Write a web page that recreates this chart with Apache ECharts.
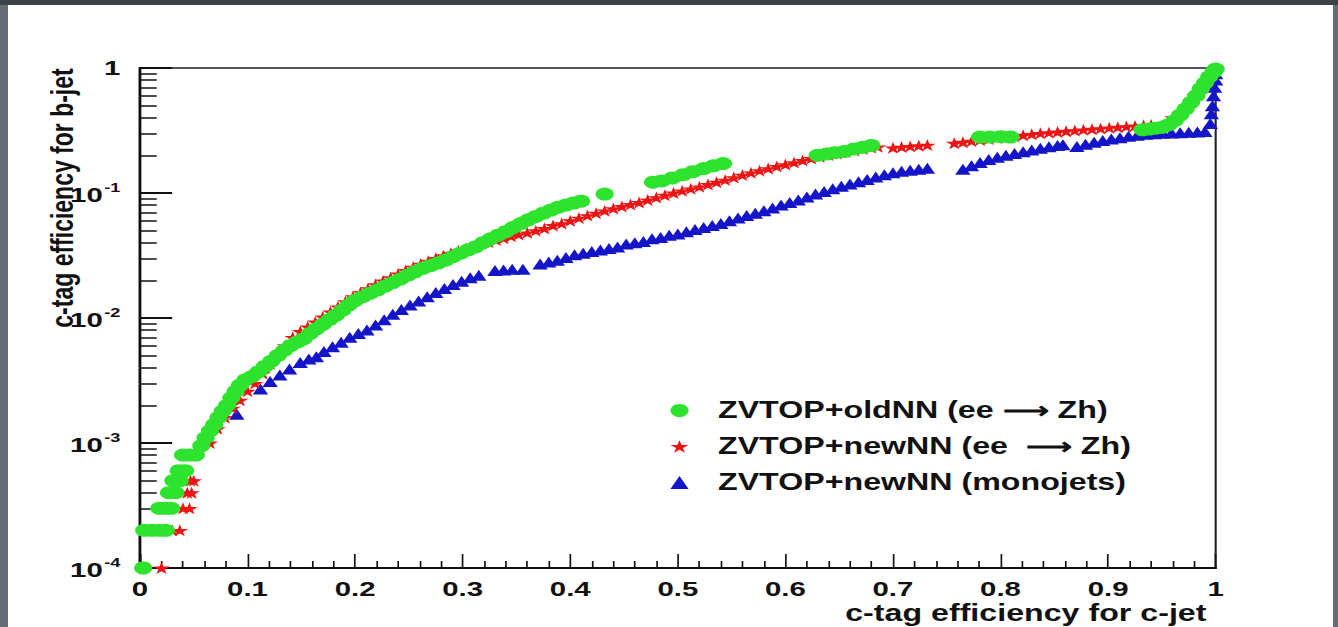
<!DOCTYPE html>
<html><head><meta charset="utf-8">
<script src="https://cdn.jsdelivr.net/npm/echarts@6/dist/echarts.min.js"></script>
<style>
html,body{margin:0;padding:0;width:1338px;height:627px;overflow:hidden;background:#656c74;}
#topbar{position:absolute;left:0;top:0;width:1338px;height:5px;background:#3d4248;}
#paper{position:absolute;left:8px;top:5px;width:1325px;height:622px;background:#fff;}
#chart{position:absolute;left:0;top:0;width:956px;height:627px;transform:scaleX(1.39958);transform-origin:0 0;}
</style></head><body>
<div id="topbar"></div><div id="paper"></div><div id="chart"></div>
<script>
// ---- data (x = c-tag efficiency for c-jet, y = c-tag efficiency for b-jet) ----
const seriesNames = ['ZVTOP+oldNN (ee \u27F6 Zh)', 'ZVTOP+newNN (ee  \u27F6 Zh)', 'ZVTOP+newNN (monojets)'];
const xTitle = 'c-tag efficiency for c-jet';
const yTitle = 'c-tag efficiency for b-jet';
const xTicks = [0, 0.1, 0.2, 0.3, 0.4, 0.5, 0.6, 0.7, 0.8, 0.9, 1];
const yTicks = [1e-4, 1e-3, 1e-2, 1e-1, 1];

const greenOldNN = [
 [0.003,1e-4],
 [0.004,2e-4],[0.011,2e-4],[0.018,2e-4],[0.024,2e-4],
 [0.018,3e-4],[0.024,3e-4],[0.029,3e-4],
 [0.027,4e-4],[0.033,4e-4],
 [0.031,5e-4],[0.037,5e-4],
 [0.036,6e-4],[0.042,6e-4],
 [0.040,8e-4],[0.046,8e-4],[0.052,8e-4],
 [0.057,9.5e-4],[0.061,1.1e-3],[0.065,1.25e-3],[0.069,1.4e-3],[0.073,1.6e-3],[0.077,1.8e-3],
 [0.081,2.0e-3],[0.085,2.3e-3],[0.089,2.6e-3],[0.093,2.9e-3],[0.098,3.2e-3],[0.104,3.4e-3],
 [0.110,3.7e-3],[0.116,4.1e-3],[0.122,4.5e-3],[0.128,5.0e-3],[0.134,5.5e-3],[0.140,6.0e-3],
 [0.146,6.4e-3],[0.152,6.8e-3],[0.158,7.5e-3],[0.164,8.2e-3],[0.170,8.9e-3],[0.176,9.7e-3],
 [0.182,0.0105],[0.188,0.0115],[0.194,0.0127],[0.200,0.0138],[0.207,0.0148],[0.214,0.0158],
 [0.221,0.0168],[0.228,0.018],[0.235,0.0192],[0.242,0.0205],[0.249,0.022],[0.256,0.0235],
 [0.263,0.025],[0.270,0.0262],[0.277,0.0275],[0.284,0.029],[0.291,0.031],[0.298,0.033],
 [0.305,0.035],[0.312,0.037],[0.319,0.040],[0.326,0.043],[0.333,0.046],[0.340,0.049],
 [0.347,0.053],[0.354,0.057],[0.361,0.061],[0.368,0.065],[0.375,0.069],[0.382,0.073],
 [0.389,0.077],[0.396,0.080],[0.403,0.083],[0.410,0.086],
 [0.432,0.098],
 [0.477,0.122],[0.485,0.125],[0.495,0.132],[0.505,0.140],[0.514,0.148],[0.524,0.157],[0.533,0.165],[0.542,0.172],
 [0.630,0.200],[0.638,0.205],[0.646,0.210],[0.655,0.215],[0.664,0.225],[0.672,0.232],[0.680,0.240],
 [0.781,0.280],[0.790,0.280],[0.800,0.282],[0.809,0.280],
 [0.932,0.320],[0.938,0.325],[0.944,0.330],[0.950,0.335],[0.956,0.350],[0.962,0.380],[0.967,0.420],
 [0.972,0.470],[0.977,0.530],[0.982,0.600],[0.986,0.680],[0.990,0.760],[0.994,0.850],[0.998,0.930],[1.000,0.980]
];

const redNewNN = [
 [0.020,1e-4],
 [0.030,2e-4],[0.037,2e-4],
 [0.040,3e-4],[0.046,3e-4],
 [0.044,4e-4],[0.048,4e-4],
 [0.047,5e-4],[0.050,5e-4],
 [0.065,1.0e-3],[0.072,1.3e-3],[0.079,1.6e-3],[0.086,1.9e-3],[0.093,2.2e-3],[0.100,2.6e-3],
 [0.107,3.0e-3],[0.114,3.6e-3],[0.121,4.3e-3],[0.128,5.1e-3],[0.135,6.0e-3],[0.142,7.0e-3],
 [0.149,7.8e-3],[0.156,8.5e-3],[0.163,9.3e-3],[0.170,0.0102],[0.177,0.0112],[0.184,0.0123],
 [0.191,0.0135],[0.198,0.0148],[0.205,0.016],[0.212,0.0172],[0.219,0.0185],[0.226,0.0198],
 [0.233,0.021],[0.240,0.0225],[0.247,0.024],[0.254,0.0255],[0.261,0.027],[0.268,0.0285],
 [0.275,0.030],[0.282,0.0315],[0.289,0.033],[0.296,0.0345],[0.303,0.036],[0.310,0.0375],
 [0.317,0.039],[0.324,0.0405],[0.331,0.042],[0.338,0.0435],[0.345,0.045],[0.352,0.0465],
 [0.360,0.048],[0.368,0.050],[0.376,0.052],[0.384,0.055],[0.392,0.057],[0.400,0.060],
 [0.408,0.063],[0.416,0.066],[0.424,0.069],[0.432,0.072],[0.440,0.075],[0.448,0.078],
 [0.456,0.081],[0.464,0.084],[0.472,0.088],[0.480,0.092],[0.488,0.096],[0.496,0.100],
 [0.504,0.104],[0.512,0.108],[0.520,0.112],[0.528,0.117],[0.536,0.122],[0.544,0.127],
 [0.552,0.133],[0.560,0.139],[0.568,0.145],[0.576,0.151],[0.584,0.157],[0.592,0.163],
 [0.600,0.169],[0.608,0.175],[0.616,0.182],[0.624,0.189],[0.632,0.195],[0.640,0.201],
 [0.648,0.207],[0.656,0.213],[0.664,0.219],[0.672,0.225],[0.680,0.231],[0.686,0.234],
 [0.700,0.230],[0.708,0.233],[0.716,0.236],[0.724,0.239],[0.732,0.242],
 [0.757,0.250],[0.765,0.255],[0.773,0.260],[0.781,0.265],[0.789,0.270],[0.797,0.275],
 [0.805,0.280],[0.813,0.285],[0.821,0.290],[0.829,0.295],[0.837,0.300],[0.845,0.304],
 [0.853,0.308],[0.861,0.312],[0.869,0.316],[0.877,0.320],[0.885,0.324],[0.893,0.328],
 [0.901,0.332],[0.909,0.336],[0.917,0.340],[0.925,0.344],[0.933,0.348],[0.940,0.350],
 [0.960,0.400],[0.980,0.600],[0.998,0.900]
];

const blueMonojets = [
 [0.090,1.7e-3],
 [0.112,2.7e-3],[0.121,3.1e-3],[0.130,3.5e-3],[0.139,3.9e-3],[0.149,4.4e-3],[0.157,4.7e-3],
 [0.164,4.9e-3],[0.171,5.4e-3],[0.179,5.9e-3],[0.187,6.4e-3],[0.195,7.0e-3],[0.203,7.5e-3],
 [0.211,8.0e-3],[0.219,8.8e-3],[0.227,9.7e-3],[0.235,0.0107],[0.243,0.0117],[0.251,0.0127],
 [0.259,0.0137],[0.267,0.0148],[0.275,0.016],[0.283,0.0172],[0.291,0.0185],[0.299,0.0197],
 [0.307,0.021],[0.315,0.022],
 [0.330,0.024],[0.338,0.0242],[0.346,0.0245],[0.356,0.0245],
 [0.372,0.027],[0.380,0.028],[0.388,0.029],[0.396,0.0305],[0.404,0.032],[0.412,0.033],
 [0.420,0.034],[0.428,0.035],[0.436,0.036],[0.444,0.037],[0.452,0.039],[0.460,0.040],
 [0.468,0.041],[0.476,0.043],[0.484,0.044],[0.492,0.046],[0.500,0.047],[0.508,0.049],
 [0.516,0.051],[0.524,0.053],[0.532,0.055],[0.540,0.057],[0.548,0.060],[0.556,0.063],
 [0.564,0.066],[0.572,0.069],[0.580,0.072],[0.588,0.076],[0.596,0.080],[0.604,0.084],
 [0.612,0.088],[0.620,0.093],[0.628,0.098],[0.636,0.103],[0.644,0.108],[0.652,0.113],
 [0.660,0.118],[0.668,0.123],[0.676,0.128],[0.684,0.134],[0.692,0.140],[0.700,0.145],
 [0.708,0.149],[0.716,0.152],[0.724,0.155],[0.732,0.158],
 [0.765,0.155],[0.773,0.165],[0.781,0.175],[0.789,0.185],[0.797,0.193],[0.805,0.200],
 [0.813,0.207],[0.821,0.214],[0.829,0.221],[0.837,0.228],[0.845,0.234],[0.853,0.240],[0.858,0.243],
 [0.871,0.235],[0.879,0.245],[0.887,0.255],[0.895,0.263],[0.903,0.270],[0.911,0.277],
 [0.919,0.284],[0.927,0.290],[0.935,0.295],[0.943,0.298],[0.951,0.300],[0.959,0.302],
 [0.967,0.304],[0.975,0.306],[0.983,0.308],[0.990,0.310],[0.995,0.360],[0.996,0.430],
 [0.997,0.500],[0.998,0.600],[0.999,0.700],[1.000,0.800],[1.000,0.900]
];

// ---- styling ----
const FONT = 'Liberation Sans, Arial, Helvetica, sans-serif';
const GREEN = '#2ee32e', RED = '#ee1414', BLUE = '#1414c8';
const STAR = 'path://M50,0 L61,35 L98,35 L68,57 L79,91 L50,70 L21,91 L32,57 L2,35 L39,35 Z';

const minorY = [];
[1e-4, 1e-3, 1e-2, 1e-1].forEach(function (d) {
  for (let k = 2; k <= 9; k++) minorY.push(+(d * k).toPrecision(3));
});

const chart = echarts.init(document.getElementById('chart'), null, { renderer: 'svg' });
chart.setOption({
  animation: false,
  backgroundColor: 'transparent',
  textStyle: { fontFamily: FONT },
  grid: { left: 100, right: 87.4, top: 68, bottom: 59, containLabel: false, outerBoundsMode: 'none',
          show: true, borderColor: '#222', borderWidth: 1.5, backgroundColor: 'transparent' },
  legend: {
    orient: 'vertical', left: 474, top: 394,
    itemWidth: 13, itemHeight: 13, itemGap: 13,
    data: [
      { name: seriesNames[0], icon: 'circle' },
      { name: seriesNames[1], icon: STAR },
      { name: seriesNames[2], icon: 'triangle' }
    ],
    textStyle: { fontSize: 23, fontWeight: 'bold', color: '#111', fontFamily: FONT, padding: [0, 0, 0, 16] }
  },
  graphic: [
    { type: 'text', x: 862, y: 613, silent: true,
      style: { text: xTitle, fill: '#111', font: 'bold 23px ' + FONT, align: 'right', verticalAlign: 'middle' } },
    { type: 'text', x: 44, y: 198, rotation: Math.PI / 2, silent: true,
      style: { text: yTitle, fill: '#111', font: 'bold 23px ' + FONT, align: 'center', verticalAlign: 'middle' } }
  ],
  xAxis: {
    type: 'value', min: 0, max: 1, interval: 0.1,
    axisLine: { show: true, onZero: false, lineStyle: { color: '#111', width: 2 } },
    axisTick: { show: true, inside: true, length: 14, lineStyle: { color: '#111', width: 1.2 } },
    minorTick: { show: true, splitNumber: 5, length: 7, lineStyle: { color: '#111', width: 1.2 } },
    axisLabel: { fontSize: 21, fontWeight: 'bold', color: '#111', margin: 10, lineHeight: 21,
      formatter: function (v) { return String(v); } },
    splitLine: { show: false }
  },
  yAxis: [{
    type: 'log', logBase: 10, min: yTicks[0], max: yTicks[yTicks.length - 1],
    axisLine: { show: true, onZero: false, lineStyle: { color: '#111', width: 2 } },
    axisTick: { show: true, inside: true, length: 23, lineStyle: { color: '#111', width: 2 } },
    axisLabel: {
      margin: 14, color: '#111',
      formatter: function (v) {
        const e = Math.round(Math.log10(v));
        if (e === 0) return '{b|1}';
        return '{b|10}{s|' + e + '}';
      },
      rich: {
        b: { fontSize: 21, fontWeight: 'bold', color: '#111', fontFamily: FONT, verticalAlign: 'bottom' },
        s: { fontSize: 13, fontWeight: 'bold', color: '#111', fontFamily: FONT, verticalAlign: 'top', padding: [0, 0, 12, 1] }
      }
    },
    splitLine: { show: false }
  }, {
    type: 'log', logBase: 10, min: yTicks[0], max: yTicks[yTicks.length - 1], position: 'left',
    axisLine: { show: false },
    axisLabel: { show: false },
    splitLine: { show: false },
    axisTick: { show: true, inside: true, length: 12, customValues: minorY, lineStyle: { color: '#111', width: 1.5 } }
  }],
  series: [
    { name: seriesNames[2], type: 'scatter', data: blueMonojets, symbol: 'triangle', symbolSize: 11,
      itemStyle: { color: BLUE, opacity: 1 }, z: 2 },
    { name: seriesNames[1], type: 'scatter', data: redNewNN, symbol: STAR, symbolSize: 12,
      itemStyle: { color: RED, opacity: 1 }, z: 3 },
    { name: seriesNames[0], type: 'scatter', data: greenOldNN, symbol: 'circle', symbolSize: 13,
      itemStyle: { color: GREEN, opacity: 1 }, z: 4 }
  ]
});
</script></body></html>
